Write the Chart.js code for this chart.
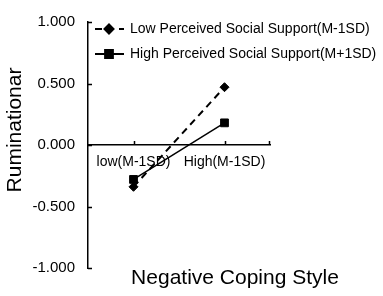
<!DOCTYPE html>
<html>
<head>
<meta charset="utf-8">
<script src="https://cdn.jsdelivr.net/npm/chart.js@4/dist/chart.umd.min.js"></script>
<style>
  html, body { margin: 0; padding: 0; background: #fff; }
  #wrap { width: 383px; height: 296px; position: relative; }
</style>
</head>
<body>
<div id="wrap"><canvas id="chart"></canvas></div>
<script>
const categories = ['low(M-1SD)', 'High(M-1SD)'];
const seriesNames = ['Low Perceived Social Support(M-1SD)', 'High Perceived Social Support(M+1SD)'];
const lowSupport = [-0.34, 0.47];
const highSupport = [-0.28, 0.18];
const yTicks = [-1, -0.5, 0, 0.5, 1];

const FONT = 'Arial, "Liberation Sans", sans-serif';

// ejes con marcas hacia dentro, leyenda y titulos
const extras = {
    id: 'extras',
    afterDraw(chart) {
        const ctx = chart.ctx;
        const area = chart.chartArea;
        const xs = chart.scales.x;
        const ys = chart.scales.y;
        const y0 = ys.getPixelForValue(0);
        ctx.save();
        ctx.strokeStyle = '#000';
        ctx.lineWidth = 1.5;
        ctx.beginPath();
        yTicks.forEach(v => {
            const py = Math.round(ys.getPixelForValue(v)) + 0.5;
            ctx.moveTo(area.left, py);
            ctx.lineTo(area.left + 4, py);
        });
        categories.forEach((c, i) => {
            const px = Math.round(xs.getPixelForValue(i)) + 0.5;
            ctx.moveTo(px, y0);
            ctx.lineTo(px, y0 - 4);
        });
        ctx.moveTo(area.right - 0.5, y0);
        ctx.lineTo(area.right - 0.5, y0 - 4);
        ctx.stroke();

        // Leyenda
        chart.data.datasets.forEach((ds, i) => {
            const ly = 29 + i * 25;
            ctx.beginPath();
            ctx.setLineDash(ds.borderDash || []);
            ctx.lineWidth = 2;
            ctx.moveTo(95, ly);
            ctx.lineTo(124, ly);
            ctx.stroke();
            ctx.setLineDash([]);
            Chart.helpers.drawPoint(ctx, {
                pointStyle: ds.pointStyle, radius: ds.pointRadius, rotation: 0, borderWidth: 1
            }, 109, ly);
            ctx.fillStyle = '#000';
            ctx.fill();
            ctx.font = '14px ' + FONT;
            ctx.textAlign = 'left';
            ctx.textBaseline = 'middle';
            ctx.fillText(ds.label, 130, ly);
        });

        // Titulos
        ctx.fillStyle = '#000';
        ctx.font = '21px ' + FONT;
        ctx.textAlign = 'center';
        ctx.textBaseline = 'middle';
        ctx.fillText('Negative Coping Style', 235, 278);
        ctx.translate(15, 130);
        ctx.rotate(-Math.PI / 2);
        ctx.fillText('Ruminationar', 0, 0);
        ctx.restore();
    }
};

new Chart(document.getElementById('chart'), {
    type: 'line',
    data: {
        labels: categories,
        datasets: [
            {
                label: seriesNames[0],
                data: lowSupport,
                borderColor: '#000',
                backgroundColor: '#000',
                borderWidth: 2,
                borderDash: [7, 5],
                pointStyle: 'rectRot',
                pointRadius: 4.5,
                pointBorderWidth: 1
            },
            {
                label: seriesNames[1],
                data: highSupport,
                borderColor: '#000',
                backgroundColor: '#000',
                borderWidth: 1.5,
                pointStyle: 'rect',
                pointRadius: 5.5,
                pointBorderWidth: 1
            }
        ]
    },
    options: {
        responsive: true,
        maintainAspectRatio: false,
        animation: false,
        layout: { padding: { left: 0, top: 15, right: 113, bottom: 28 } },
        plugins: {
            legend: { display: false },
            tooltip: { enabled: false }
        },
        scales: {
            x: {
                type: 'category',
                offset: true,
                position: { y: 0 },
                afterFit: s => { s.height = 0; },
                grid: { display: false, drawTicks: false },
                border: { display: true, color: '#000', width: 1.5 },
                ticks: {
                    color: '#000', padding: 9, autoSkip: false,
                    maxRotation: 0, minRotation: 0,
                    font: { family: FONT, size: 14 }
                }
            },
            y: {
                min: -1,
                max: 1,
                afterFit: s => { s.width = 88; },
                afterBuildTicks: s => { s.ticks = yTicks.map(v => ({ value: v })); },
                grid: { display: false, drawTicks: false },
                border: { display: true, color: '#000', width: 1.5 },
                ticks: {
                    color: '#000',
                    padding: 13,
                    font: { family: FONT, size: 15 },
                    callback: v => v.toFixed(3)
                }
            }
        }
    },
    plugins: [extras]
});
</script>
</body>
</html>
